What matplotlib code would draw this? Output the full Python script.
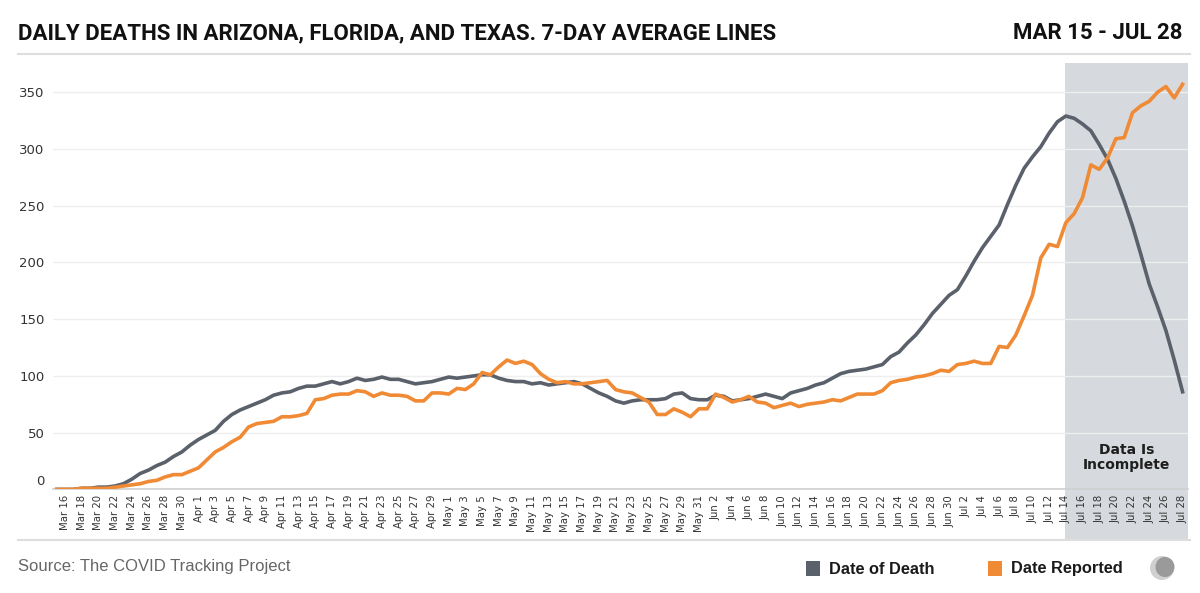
import numpy as np
import matplotlib
matplotlib.use('Agg')
import matplotlib.pyplot as plt
import matplotlib.transforms as mtransforms
from matplotlib.patches import Rectangle, Ellipse
from matplotlib.lines import Line2D

# daily values, Mar 15 .. Jul 28 2020
dates = np.arange(np.datetime64('2020-03-15'), np.datetime64('2020-07-29'))

date_of_death = [
    0, 0, 0, 1, 1, 2, 2, 3, 5, 9, 14, 17, 21, 24, 29, 33, 39,            # Mar 15-31
    44, 48, 52, 60, 66, 70, 73, 76, 79, 83, 85, 86, 89, 91, 91,           # Apr 1-15
    93, 95, 93, 95, 98, 96, 97, 99, 97, 97, 95, 93, 94, 95, 97,           # Apr 16-30
    99, 98, 99, 100, 101, 101, 98, 96, 95, 95, 93, 94, 92, 93, 94,        # May 1-15
    95, 93, 89, 85, 82, 78, 76, 78, 79, 79, 79, 80, 84, 85, 80, 79,       # May 16-31
    79, 83, 82, 78, 79, 80, 82, 84, 82, 80, 85, 87, 89, 92, 94,           # Jun 1-15
    98, 102, 104, 105, 106, 108, 110, 117, 121, 129, 136, 145, 155, 163, 171,  # Jun 16-30
    176, 188, 201, 213, 223, 233, 251, 268, 283, 293, 302, 314, 324, 329,      # Jul 1-14
    327, 322, 316, 304, 291, 274, 254, 232, 207, 181, 161, 140, 114, 86,       # Jul 15-28
]

date_reported = [
    0, 0, 0, 1, 1, 1, 1, 2, 3, 4, 5, 7, 8, 11, 13, 13, 16,
    19, 26, 33, 37, 42, 46, 55, 58, 59, 60, 64, 64, 65, 67, 79,
    80, 83, 84, 84, 87, 86, 82, 85, 83, 83, 82, 78, 78, 85, 85,
    84, 89, 88, 93, 103, 101, 108, 114, 111, 113, 110, 102, 97, 94, 95,
    93, 93, 94, 95, 96, 88, 86, 85, 81, 77, 66, 66, 71, 68, 64, 71,
    71, 84, 81, 77, 79, 82, 77, 76, 72, 74, 76, 73, 75, 76, 77,
    79, 78, 81, 84, 84, 84, 87, 94, 96, 97, 99, 100, 102, 105, 104,
    110, 111, 113, 111, 111, 126, 125, 136, 153, 171, 204, 216, 214, 235,
    243, 257, 286, 282, 292, 309, 310, 332, 338, 342, 350, 355, 345, 357,
]

y_ticks = [0, 50, 100, 150, 200, 250, 300, 350]
incomplete_from = np.datetime64('2020-07-14')

GRAY = '#5b616b'
ORANGE = '#f08a35'
SHADE = '#d6d9dd'
HEAD_FONT = ['Roboto', 'DejaVu Sans']

W, H = 1200, 593


def fx(x):
    return x / W


def fy(y):
    return 1 - y / H


fig = plt.figure(figsize=(W / 100, H / 100), dpi=100)
ax = fig.add_axes([fx(53), fy(489.4), fx(1188) - fx(53), fy(62.7) - fy(489.4)])

ax.plot(dates, date_of_death, color=GRAY, lw=2.6, solid_joinstyle='round', zorder=3)
ax.plot(dates, date_reported, color=ORANGE, lw=2.6, solid_joinstyle='round', zorder=4)

x0 = matplotlib.dates.date2num(dates[0]) - 0.45
x1 = matplotlib.dates.date2num(dates[-1]) + 0.65
ax.set_xlim(x0, x1)
ax.set_ylim(0, 376)

# shaded "incomplete" band, runs down through the tick labels
xs = matplotlib.dates.date2num(incomplete_from) - 0.1
band = Rectangle((xs, -0.119), x1 - xs, 1.119, transform=ax.get_xaxis_transform(),
                 facecolor=SHADE, edgecolor='none', clip_on=False, zorder=0)
ax.add_patch(band)
ax.text(xs + (x1 - xs) / 2, 28, 'Data Is\nIncomplete', ha='center', va='center',
        fontsize=10, fontweight='bold', color='#1e1e1e', linespacing=1.15, zorder=5)

for s in ['top', 'right', 'left']:
    ax.spines[s].set_visible(False)
ax.spines['bottom'].set_color('#cfcfcf')
ax.spines['bottom'].set_linewidth(1.2)

ax.set_yticks(y_ticks)
ax.set_yticklabels([str(v) for v in y_ticks])
ax.grid(axis='y', color='#efefef', lw=1)
ax.set_axisbelow(True)
ax.tick_params(axis='y', length=0, pad=6, labelsize=9.5, labelcolor='#333333')

tick_dates = dates[1::2]
tick_labels = [f"{d.astype(object):%b} {d.astype(object).day}" for d in tick_dates]
ax.set_xticks(matplotlib.dates.date2num(tick_dates))
ax.set_xticklabels(tick_labels, rotation=90, va='top', ha='center')
ax.tick_params(axis='x', length=0, pad=4, labelsize=7.3, labelcolor='#333333')

# raise the "0" label like the original
lbl0 = ax.get_yticklabels()[0]
lbl0.set_transform(lbl0.get_transform() + mtransforms.ScaledTranslation(0, 7 / 72, fig.dpi_scale_trans))

# header
fig.text(fx(18), fy(33), 'DAILY DEATHS IN ARIZONA, FLORIDA, AND TEXAS. 7-DAY AVERAGE LINES',
         ha='left', va='center', fontsize=16, fontweight='bold', color='#111111',
         family=HEAD_FONT)
fig.text(fx(1182), fy(33), 'MAR 15 - JUL 28', ha='right', va='center', fontsize=16,
         fontweight='bold', color='#111111', family=HEAD_FONT)
fig.add_artist(Line2D([fx(18), fx(1190)], [fy(54), fy(54)], color='#dedede', lw=1.5))
fig.add_artist(Line2D([fx(18), fx(1190)], [fy(540), fy(540)], color='#dedede', lw=1.5))

# footer
fig.text(fx(18), fy(567), 'Source: The COVID Tracking Project', ha='left', va='center',
         fontsize=12, color='#666666', family=['Liberation Sans', 'DejaVu Sans'])
for x_sq, col, name in [(806, GRAY, 'Date of Death'), (988, ORANGE, 'Date Reported')]:
    fig.add_artist(Rectangle((fx(x_sq), fy(576)), fx(14), 15 / H, facecolor=col,
                             edgecolor='none', transform=fig.transFigure))
    fig.text(fx(x_sq + 23), fy(569), name, ha='left', va='center', fontsize=11.8,
             fontweight='bold', color='#1a1a1a', family=['Liberation Sans', 'DejaVu Sans'])

# tracking project logo
fig.add_artist(Ellipse((fx(1162), fy(568)), 24 / W, 24 / H, facecolor='#d0d0d0',
                       edgecolor='none', transform=fig.transFigure))
fig.add_artist(Ellipse((fx(1165), fy(567)), 19 / W, 20 / H, facecolor='#9a9a9a',
                       edgecolor='none', transform=fig.transFigure))

fig.savefig('out.png', dpi=100, facecolor='white')
